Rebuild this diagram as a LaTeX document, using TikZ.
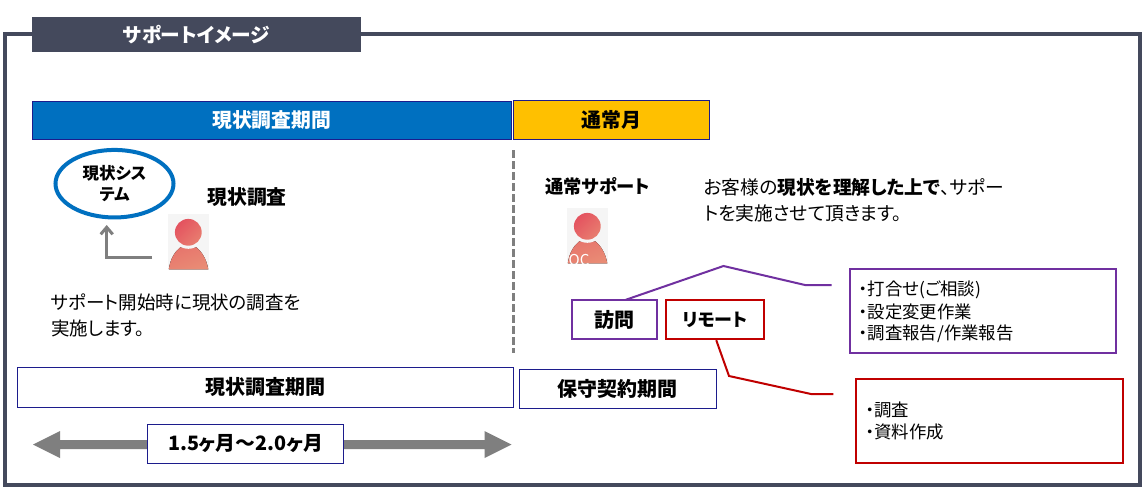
\documentclass[tikz,border=0pt]{standalone}
\usepackage{fontspec}
\setmainfont{Noto Sans CJK JP}[RawFeature=+palt]
\usetikzlibrary{arrows.meta,shapes.geometric,shapes.arrows,positioning}
\definecolor{frameC}{HTML}{44495C}
\definecolor{navyC}{HTML}{1C1C8C}
\definecolor{blueC}{HTML}{0070C0}
\definecolor{yellowC}{HTML}{FFC000}
\definecolor{purpleC}{HTML}{7030A0}
\definecolor{redC}{HTML}{C00000}
\definecolor{grayC}{HTML}{7F7F7F}
\definecolor{iconA}{HTML}{E4525F}
\definecolor{iconB}{HTML}{E98C75}
\newcommand{\fs}[1]{\fontsize{#1}{#1}\selectfont}
\tikzset{
  x=1pt,y=-1pt,
  bar/.style={draw=navyC,line width=1pt,inner sep=0pt,outer sep=0pt,anchor=north west,align=center},
  tagbox/.style={bar,line width=2pt,fill=white,font=\fs{18}\bfseries},
  listbox/.style={draw,line width=2pt,inner sep=0pt,outer sep=0pt,anchor=north west,fill=none},
  txt/.style={inner sep=0pt,outer sep=0pt,anchor=west,align=left},
  personicon/.pic={
    \fill[black!4] (-20.3,-18.3) rectangle (20.7,37);
    \begin{scope}
      \clip (-20.3,-18.3) rectangle (20.7,37);
      \fill[left color=iconB!60!iconA,right color=iconB,shading angle=20]
        (-19.5,37) .. controls (-18,26) and (-13,19) .. (-8,15) -- (8,15)
        .. controls (13,19) and (18,26) .. (20,37) -- cycle;
      \fill[black!4] (0,0) circle (16.5);
    \end{scope}
    \shade[left color=iconA,right color=iconB!75!iconA,shading angle=45] (0,0) circle (13.4);
  }
}
\begin{document}
\begin{tikzpicture}
\useasboundingbox (0,0) rectangle (1147,490);
\fill[white] (0,0) rectangle (1147,490);
% outer frame
\draw[frameC,line width=4pt] (5,34) rectangle (1139.5,485);
\node[fill=frameC,text=white,inner sep=0pt,outer sep=0pt,anchor=north west,minimum width=329pt,minimum height=35pt,font=\fs{19.7}\bfseries] (title) at (32,17) {サポートイメージ};
% header bars
\node[bar,fill=blueC,text=white,minimum width=479.5pt,minimum height=38pt,font=\fs{19.8}\bfseries] (barA) at (32,101) {現状調査期間};
\node[bar,fill=yellowC,minimum width=196.5pt,minimum height=39pt,font=\fs{19.9}\bfseries] (barB) at (513.3,100) {通常月};
% divider
\coordinate (divT) at (513.3,150);
\coordinate (divB) at (513.3,353);
\draw[grayC,line width=3pt,dash pattern=on 8pt off 3pt] (divT) -- (divB);
% left column
\node[ellipse,draw=blueC,line width=4pt,fill=white,minimum width=118pt,minimum height=67.5pt,inner sep=0pt,align=center,font=\fs{16.5}\bfseries] (sys) at (114.5,183.7) {現状シス\\[4.5pt]テム};
\node[txt,font=\fs{19.8}\bfseries] (surveyT) at (207.5,196.7) {現状調査};
\pic at (188.3,232.3) {personicon};
\coordinate (arrS) at (152,257.3);
\coordinate (arrC) at (106.7,257.3);
\coordinate (arrE) at (106.7,225);
\draw[grayC,line width=3pt,-{Straight Barb[length=7pt,width=12pt,line width=3pt]}] (arrS) -- (arrC) -- (arrE);
\node[txt,font=\fs{18.5}] (leftT) at (51,315) {サポート開始時に現状の調査を\\[7.5pt]実施します。};
% right column
\node[txt,font=\fs{18.3}\bfseries] (normT) at (545,186) {通常サポート};
\node[txt,font=\fs{18.75}] (descT) at (704,200) {お客様の\textbf{現状を理解した上で}、サポー\\[7.25pt]トを実施させて頂きます。};
\pic at (587.3,226.3) {personicon};
\begin{scope}
  \clip (567,208) rectangle (608,263.3);
  \node[text=white,inner sep=0pt,font=\fs{15},anchor=west] (oc) at (568.5,259.5) {OC};
\end{scope}
% tags
\node[tagbox,draw=purpleC,minimum width=85pt,minimum height=39.5pt,font=\fs{20}\bfseries] (visit) at (571.7,299.7) {訪問};
\node[tagbox,draw=redC,minimum width=98.5pt,minimum height=39.5pt] (remote) at (665.7,299.7) {リモート};
% list boxes
\node[listbox,draw=purpleC,minimum width=266.6pt,minimum height=84.3pt] (listA) at (849.7,268.7) {};
\node[listbox,draw=redC,minimum width=267.6pt,minimum height=84.3pt] (listB) at (855.7,378.7) {};
\node[txt,font=\fs{17.4}] (listAT) at (859,311.5) {・打合せ(ご相談)\\[3.8pt]・設定変更作業\\[3.8pt]・調査報告/作業報告};
\node[txt,font=\fs{17.4}] (listBT) at (865.5,421) {・調査\\[4.2pt]・資料作成};
% callout lines
\coordinate (pA) at (723.5,266);
\coordinate (pB) at (805,285);
\coordinate (pC) at (831.5,285);
\draw[purpleC,line width=2pt] (visit.north) ++(11.8,0) -- (pA) -- (pB) -- (pC);
\coordinate (rA) at (729,376);
\coordinate (rB) at (811,394);
\coordinate (rC) at (833.3,394);
\draw[redC,line width=2pt] (remote.south) ++(1.3,1) -- (rA) -- (rB) -- (rC);
% bottom
\node[bar,minimum width=496pt,minimum height=40pt,fill=white,font=\fs{20}\bfseries] (periodA) at (17.3,367) {現状調査期間};
\node[bar,minimum width=196.7pt,minimum height=39pt,fill=white,font=\fs{20}\bfseries] (periodB) at (519.3,369) {保守契約期間};
\coordinate (dL) at (33,444.5);
\coordinate (dR) at (511.5,444.5);
\fill[grayC] (dL) -- (60,431) -- (60,440) -- (484.5,440) -- (484.5,431) -- (dR) -- (484.5,458) -- (484.5,449) -- (60,449) -- (60,458) -- cycle;
\node[bar,fill=white,minimum width=196.4pt,minimum height=39pt,font=\fs{19.8}\bfseries] (dur) at (147.3,424.3) {1.5ヶ月～2.0ヶ月};
\end{tikzpicture}
\end{document}
